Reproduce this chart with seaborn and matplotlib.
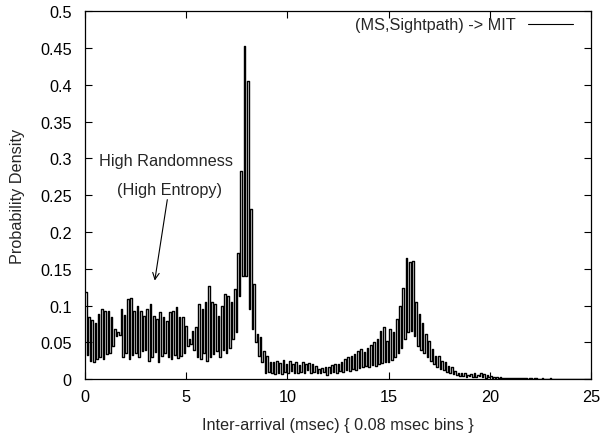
import numpy as np
import pandas as pd
import matplotlib
matplotlib.use("Agg")
import matplotlib.pyplot as plt
from matplotlib.ticker import FuncFormatter
from matplotlib.lines import Line2D
import seaborn as sns

# ---- data: probability density per 0.08 msec bin, starting at 0 msec ----
bin_width = 0.08
density = [
    0.118, 0.033, 0.084, 0.025, 0.081, 0.023, 0.076, 0.027, 0.088, 0.030,
    0.095, 0.028, 0.093, 0.034, 0.092, 0.036, 0.084, 0.045, 0.068, 0.058,
    0.064, 0.060, 0.095, 0.030, 0.087, 0.035, 0.109, 0.028, 0.110, 0.033,
    0.093, 0.036, 0.100, 0.030, 0.093, 0.038, 0.086, 0.040, 0.095, 0.025,
    0.102, 0.030, 0.086, 0.037, 0.082, 0.024, 0.091, 0.032, 0.084, 0.036,
    0.079, 0.030, 0.091, 0.027, 0.092, 0.033, 0.098, 0.029, 0.084, 0.032,
    0.084, 0.035, 0.072, 0.045, 0.054, 0.048, 0.066, 0.040, 0.071, 0.030,
    0.102, 0.028, 0.095, 0.036, 0.105, 0.025, 0.126, 0.030, 0.105, 0.034,
    0.102, 0.038, 0.086, 0.030, 0.100, 0.040, 0.116, 0.035, 0.113, 0.042,
    0.105, 0.054, 0.122, 0.064, 0.172, 0.113, 0.283, 0.140, 0.453, 0.140,
    0.405, 0.095, 0.231, 0.068, 0.129, 0.050, 0.061, 0.031, 0.057, 0.023,
    0.038, 0.009, 0.031, 0.010, 0.024, 0.008, 0.023, 0.007, 0.025, 0.008,
    0.022, 0.007, 0.026, 0.010, 0.021, 0.008, 0.025, 0.011, 0.020, 0.009,
    0.023, 0.008, 0.019, 0.010, 0.024, 0.009, 0.021, 0.012, 0.022, 0.008,
    0.020, 0.010, 0.018, 0.009, 0.014, 0.008, 0.015, 0.010, 0.016, 0.006,
    0.017, 0.008, 0.019, 0.010, 0.021, 0.009, 0.020, 0.011, 0.024, 0.010,
    0.027, 0.012, 0.030, 0.011, 0.032, 0.014, 0.034, 0.013, 0.038, 0.015,
    0.041, 0.016, 0.037, 0.018, 0.043, 0.017, 0.046, 0.019, 0.050, 0.018,
    0.054, 0.020, 0.066, 0.022, 0.071, 0.024, 0.052, 0.023, 0.068, 0.026,
    0.064, 0.030, 0.082, 0.036, 0.099, 0.042, 0.124, 0.055, 0.165, 0.064,
    0.159, 0.066, 0.160, 0.058, 0.105, 0.045, 0.088, 0.040, 0.077, 0.035,
    0.061, 0.030, 0.052, 0.025, 0.041, 0.020, 0.032, 0.017, 0.032, 0.014,
    0.025, 0.012, 0.023, 0.010, 0.018, 0.008, 0.016, 0.007, 0.011, 0.005,
    0.009, 0.004, 0.008, 0.004, 0.009, 0.003, 0.006, 0.004, 0.007, 0.003,
    0.008, 0.003, 0.006, 0.004, 0.008, 0.003, 0.007, 0.002, 0.005, 0.003,
    0.004, 0.002, 0.003, 0.002, 0.003, 0.002, 0.003, 0.001, 0.002, 0.001,
    0.002, 0.001, 0.002, 0.001, 0.001, 0.001, 0.002, 0.001, 0.001, 0.001,
    0.001, 0.001, 0.001, 0.0005, 0.001, 0.001, 0.0005, 0.001, 0.001, 0.0005,
    0.0005, 0.0005, 0.001, 0.0005, 0.0, 0.0005, 0.0005, 0.001, 0.0005, 0.0,
    0.0005, 0.0, 0.0005, 0.0005, 0.0, 0.0005, 0.0005, 0.0, 0.0005, 0.0,
    0.0005, 0.0005, 0.0, 0.0005, 0.0005, 0.0, 0.0, 0.0005, 0.0005, 0.0005,
    0.0005, 0.0005, 0.0005,
]
series_label = "(MS,Sightpath) -> MIT"
x_label = "Inter-arrival (msec) { 0.08 msec bins }"
y_label = "Probability Density"
note_line1 = "High Randomness"
note_line2 = "(High Entropy)"
x_ticks = [0, 5, 10, 15, 20, 25]
y_ticks = [0, 0.05, 0.1, 0.15, 0.2, 0.25, 0.3, 0.35, 0.4, 0.45, 0.5]

n_bins = len(density)
df = pd.DataFrame({"t": (np.arange(n_bins) + 0.5) * bin_width, "p": density})

FS = 11.7
sns.set_style("ticks")
plt.rcParams["font.family"] = ["Liberation Sans", "DejaVu Sans"]
plt.rcParams["font.size"] = FS

fig = plt.figure(figsize=(6.02, 4.39), dpi=100)
ax = fig.add_axes([0.141, 0.134, 0.982 - 0.141, 0.972 - 0.134])

sns.histplot(data=df, x="t", weights="p", binwidth=bin_width,
             binrange=(0, n_bins * bin_width), element="step",
             fill=False, color="black", linewidth=1.0, ax=ax)

ax.set_xlim(0, 25)
ax.set_ylim(0, 0.5)
ax.set_xticks(x_ticks)
ax.set_yticks(y_ticks)
ax.yaxis.set_major_formatter(FuncFormatter(lambda v, p: "%g" % v))
ax.tick_params(direction="in", top=True, right=True, length=5, width=0.8,
               labelsize=FS, colors="black")
ax.tick_params(axis="x", pad=7)
ax.tick_params(axis="y", pad=9.4)
for s in ax.spines.values():
    s.set_linewidth(0.9)
    s.set_color("black")

ax.set_xlabel(x_label, fontsize=FS)
ax.set_ylabel(y_label, fontsize=FS)
ax.xaxis.set_label_coords(0.5, -0.103)
ax.yaxis.set_label_coords(-0.118, 0.5)

ax.text(4.03, 0.297, note_line1, ha="center", va="center", fontsize=FS)
ax.text(4.18, 0.258, note_line2, ha="center", va="center", fontsize=FS)
ax.annotate("", xy=(3.45, 0.134), xytext=(4.07, 0.244),
            arrowprops=dict(arrowstyle="->", color="black", lw=0.8,
                            shrinkA=0, shrinkB=0))

h = [Line2D([0], [0], color="black", lw=0.8)]
ax.legend(h, [series_label], loc="center right",
          bbox_to_anchor=(0.964, 0.963), frameon=False,
          markerfirst=False, fontsize=FS, handlelength=2.77,
          borderpad=0, borderaxespad=0, handletextpad=0.74)

fig.savefig("out.png", dpi=100)
